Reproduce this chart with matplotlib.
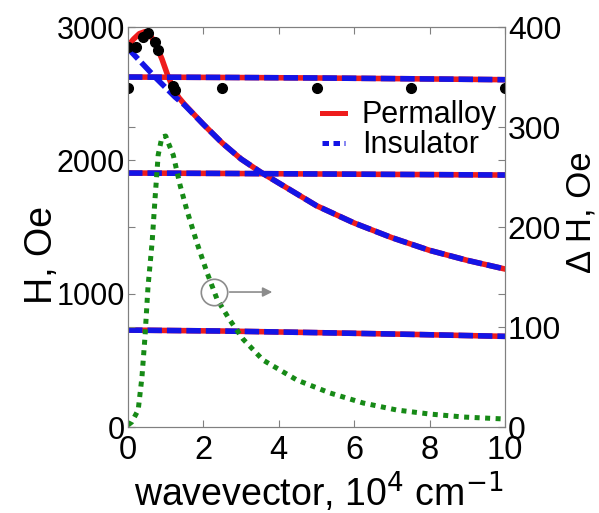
import numpy as np
from matplotlib import pyplot as plt
from matplotlib.lines import Line2D

# wavevector, 10^4 cm^-1
k_red = [0, 0.15, 0.3, 0.45, 0.6, 0.75, 0.9, 1.05, 1.2, 1.35, 1.5, 2, 2.5, 3,
         3.5, 4, 5, 6, 7, 8, 9, 10]
h_red = [2860, 2910, 2950, 2965, 2935, 2860, 2760, 2640, 2540, 2470, 2420, 2270,
         2130, 2010, 1915, 1830, 1660, 1530, 1420, 1325, 1250, 1185]

k_blue = [0, 0.25, 0.5, 0.75, 1.0, 1.25, 1.5, 2, 2.5, 3, 3.5, 4, 5, 6, 7, 8, 9, 10]
h_blue = [2840, 2765, 2690, 2615, 2545, 2475, 2415, 2270, 2130, 2010, 1915, 1830,
          1660, 1530, 1420, 1325, 1250, 1185]

# nearly flat branches (same for both materials)
k_flat = [0, 2.5, 5, 7.5, 10]
h_flat1 = [2625, 2622, 2618, 2612, 2605]
h_flat2 = [1905, 1902, 1898, 1894, 1890]
h_flat3 = [727, 720, 708, 695, 680]

# black points
k_dots = [0, 0.22, 0.4, 0.53, 0.72, 0.8, 1.2, 1.25, 0, 2.5, 5, 7.5, 10]
h_dots = [2850, 2850, 2925, 2955, 2890, 2830, 2560, 2530, 2542, 2542, 2542, 2542, 2542]

# linewidth Delta H (right axis)
k_dh = [0, 0.1, 0.27, 0.37, 0.45, 0.53, 0.64, 0.72, 0.8, 0.9, 1.0, 1.06, 1.2, 1.38,
        1.56, 1.83, 2.1, 2.36, 2.7, 3.05, 3.58, 4.48, 5.36, 6.24, 7.13, 8.0, 8.9, 10]
dh = [2, 5, 17, 50, 90, 140, 185, 230, 272, 290, 291, 285, 272, 242, 217, 184, 154,
      128, 107, 88, 67, 47, 34, 24, 17, 13, 10, 8]

plt.rcParams['font.family'] = ['Liberation Sans', 'DejaVu Sans']

RED = '#ee1c1c'
BLUE = '#1414e6'
GREEN = '#168a16'
DASH = (2.6, 0.9)
TICK_FS = 22

fig = plt.figure(figsize=(5.99, 5.13), dpi=100)
ax = fig.add_axes([0.2137, 0.1676, 0.6294, 0.7797])
ax2 = ax.twinx()

ax.plot(k_red, h_red, color=RED, lw=4)
for hf in (h_flat1, h_flat2, h_flat3):
    ax.plot(k_flat, hf, color=RED, lw=4)
for hf in (h_flat1, h_flat2, h_flat3):
    ax.plot(k_flat, hf, color=BLUE, lw=4, dashes=DASH)
ax.plot(k_blue, h_blue, color=BLUE, lw=4, dashes=DASH)
ax.plot(k_dots, h_dots, 'o', color='black', ms=7, zorder=5)

ax2.plot(k_dh, dh, color=GREEN, lw=3.6, dashes=(1, 1.1))

# marker showing the curve belongs to the right axis
ax2.plot([2.28], [135], 'o', ms=19, mfc='none', mec='#8c8c8c', mew=1.2)
ax2.annotate('', xy=(3.9, 135), xytext=(2.62, 135),
             arrowprops=dict(arrowstyle='-|>', color='#8c8c8c', lw=1.2,
                             mutation_scale=14))

ax.set_xlim(0, 10)
ax.set_ylim(0, 3000)
ax2.set_ylim(0, 400)
ax.set_xticks([0, 2, 4, 6, 8, 10])
ax.set_yticks([0, 1000, 2000, 3000])
ax2.set_yticks([0, 100, 200, 300, 400])

for a in (ax, ax2):
    a.tick_params(direction='in', length=5, width=0.8, color='#808080',
                  labelsize=TICK_FS, pad=2)
    for s in a.spines.values():
        s.set_color('#808080')
        s.set_linewidth(0.8)
ax.tick_params(top=True, right=True)
ax.tick_params(axis='x', labelsize=23.5, pad=6)
ax2.tick_params(labelsize=23)
ax2.tick_params(left=True)

ax.set_xlabel('wavevector, 10$^4$ cm$^{-1}$', fontsize=27)
ax.xaxis.set_label_coords(0.505, -0.105)
ax.set_ylabel('H, Oe', fontsize=27)
ax.yaxis.set_label_coords(-0.18, 0.43)
ax2.set_ylabel('Δ H, Oe', fontsize=25)
ax2.yaxis.set_label_coords(1.159, 0.537)

handles = [Line2D([], [], color=RED, lw=3.6),
           Line2D([], [], color=BLUE, lw=3.6, dashes=(1.3, 0.9))]
ax2.legend(handles, ['Permalloy', 'Insulator'], loc='center',
           bbox_to_anchor=(0.747, 0.742), frameon=False, fontsize=22,
           handlelength=0.75, handletextpad=0.55, labelspacing=0.0,
           borderpad=0, borderaxespad=0)

fig.savefig('out.png', dpi=100)
